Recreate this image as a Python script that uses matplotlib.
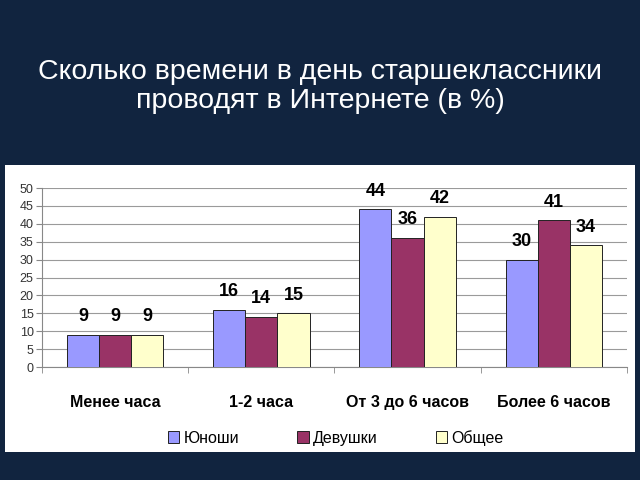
import matplotlib
matplotlib.use("Agg")
import matplotlib.pyplot as plt
import numpy as np

categories = ["Менее часа", "1-2 часа", "От 3 до 6 часов", "Более 6 часов"]
series_names = ["Юноши", "Девушки", "Общее"]
boys = [9, 16, 44, 30]
girls = [9, 14, 36, 41]
total = [9, 15, 42, 34]
colors = ["#9999ff", "#993366", "#ffffcc"]

plt.rcParams['font.family'] = ['Liberation Sans', 'DejaVu Sans']

fig = plt.figure(figsize=(6.4, 4.8), dpi=100)
fig.patch.set_facecolor("#11243f")

bg = fig.add_axes([0.0078, 0.0583, 0.984, 0.598], zorder=-1)
bg.set_facecolor("white")
bg.set_xticks([]); bg.set_yticks([])
for s in bg.spines.values():
    s.set_visible(False)

fig.text(0.5, 0.82, "Сколько времени в день старшеклассники\nпроводят в Интернете (в %)",
         ha="center", va="center", color="white", fontsize=20.5, linespacing=1.12)

ax = fig.add_axes([0.0656, 0.2354, 0.914, 0.3729])
ax.set_facecolor("white")
x = np.arange(len(categories))
w = 0.22
for i, (vals, name, c) in enumerate(zip([boys, girls, total], series_names, colors)):
    bars = ax.bar(x + (i - 1) * w, vals, w, color=c, edgecolor="#222222", linewidth=0.7,
                  label=name, zorder=3)
    for b, v in zip(bars, vals):
        ax.annotate(str(v), (b.get_x() + b.get_width() / 2, v), xytext=(0, 7),
                    textcoords="offset points", ha="center", va="bottom",
                    fontsize=13, fontweight="bold", color="black")

ax.set_xlim(-0.5, 3.5)
ax.set_ylim(0, 50)
ax.set_yticks(range(0, 51, 5))
ax.yaxis.grid(True, color="#9a9a9a", linewidth=0.8, zorder=0)
ax.set_axisbelow(True)
ax.set_xticks(x)
ax.set_xticklabels(categories, fontsize=11.5, fontweight="bold")
ax.set_xticks(np.arange(-0.5, 4, 1), minor=True)
ax.tick_params(axis="x", which="major", length=0, pad=20)
ax.tick_params(axis="x", which="minor", length=4, color="#888888")
ax.tick_params(axis="y", length=4, color="#888888", labelsize=9, labelcolor="#333333", pad=2)
for s in ["top", "right"]:
    ax.spines[s].set_visible(False)
ax.spines["left"].set_color("#888888")
ax.spines["bottom"].set_color("#888888")

leg = fig.legend(loc="center", bbox_to_anchor=(0.525, 0.088), ncol=3, frameon=False,
                 fontsize=11.5, handlelength=0.7, handleheight=0.7, handletextpad=0.3,
                 columnspacing=3.6)

fig.savefig("out.png", dpi=100, facecolor=fig.get_facecolor())
